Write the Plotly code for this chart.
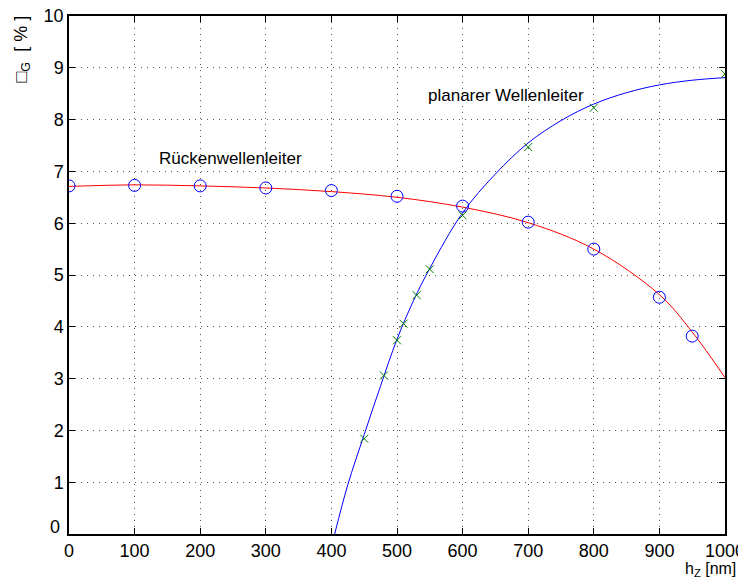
import plotly.graph_objects as go

# Rückenwellenleiter (circles + red fit curve)
ruecken_x = [0, 100, 200, 300, 400, 500, 600, 700, 800, 900, 950]
ruecken_y = [6.72, 6.73, 6.72, 6.68, 6.63, 6.52, 6.33, 6.02, 5.50, 4.57, 3.82]
ruecken_fit_x = [0, 100, 200, 300, 400, 500, 600, 700, 800, 900, 950, 1000]
ruecken_fit_y = [6.71, 6.74, 6.72, 6.68, 6.61, 6.50, 6.31, 6.01, 5.50, 4.62, 3.90, 3.02]

# planarer Wellenleiter (crosses + blue fit curve)
planar_x = [450, 480, 500, 510, 530, 550, 600, 700, 800, 1000]
planar_y = [1.84, 3.06, 3.74, 4.06, 4.61, 5.11, 6.15, 7.47, 8.23, 8.88]
planar_fit_x = [405, 425, 450, 475, 500, 525, 550, 600, 650, 700, 750, 800, 850, 900, 950, 1000]
planar_fit_y = [0.0, 0.95, 1.92, 2.86, 3.76, 4.50, 5.13, 6.20, 6.95, 7.55, 7.98, 8.30, 8.52, 8.67, 8.76, 8.81]

x_ticks = [0, 100, 200, 300, 400, 500, 600, 700, 800, 900, 1000]
y_ticks = [0, 1, 2, 3, 4, 5, 6, 7, 8, 9, 10]
y_ticktext = ["", "1", "2", "3", "4", "5", "6", "7", "8", "9", "10"]
y_zero_label = "0"

font = "Liberation Sans, Arial, Helvetica, sans-serif"

fig = go.Figure()
fig.add_trace(go.Scatter(x=ruecken_fit_x, y=ruecken_fit_y, mode="lines",
                         line=dict(color="red", width=1, shape="spline"), showlegend=False))
fig.add_trace(go.Scatter(x=planar_fit_x, y=planar_fit_y, mode="lines",
                         line=dict(color="blue", width=1, shape="spline"), showlegend=False))
fig.add_trace(go.Scatter(x=ruecken_x, y=ruecken_y, mode="markers",
                         marker=dict(symbol="circle-open", size=12, color="blue", line=dict(width=1)),
                         showlegend=False))
fig.add_trace(go.Scatter(x=planar_x, y=planar_y, mode="markers",
                         marker=dict(symbol="x-thin-open", size=8, color="green", line=dict(width=1, color="green")),
                         showlegend=False))

axis_common = dict(
    showline=True, linecolor="black", linewidth=1.5, mirror="ticks",
    ticks="inside", ticklen=6, tickcolor="black", tickwidth=1,
    showgrid=True, gridcolor="#555555", griddash="1px,5px", gridwidth=1,
    zeroline=False, tickfont=dict(family=font, size=18, color="black"),
    automargin=False, ticklabeloverflow="allow",
)

fig.update_xaxes(range=[0, 1000], tickvals=x_ticks, ticktext=[str(v) for v in x_ticks], **axis_common)
fig.update_yaxes(range=[0, 10], tickvals=y_ticks, ticktext=y_ticktext, **axis_common)

# MATLAB-style raised "0" label on the y axis
fig.add_annotation(x=0, y=y_ticks[0], xref="paper", yref="y", text=y_zero_label, showarrow=False,
                   xanchor="right", yanchor="middle", xshift=-7, yshift=7,
                   font=dict(family=font, size=18, color="black"))

fig.add_annotation(x=246, y=7.25, xref="x", yref="y", text="Rückenwellenleiter", showarrow=False,
                   font=dict(family=font, size=17, color="black"))
fig.add_annotation(x=666, y=8.47, xref="x", yref="y", text="planarer Wellenleiter", showarrow=False,
                   font=dict(family=font, size=17, color="black"))

# axis titles as annotations
fig.add_annotation(xref="paper", yref="paper", x=1.0, y=-0.047, xanchor="right", yanchor="top",
                   text="h<sub>Z</sub> [nm]", showarrow=False, xshift=13,
                   font=dict(family=font, size=16, color="black"))
fig.add_annotation(xref="paper", yref="paper", x=0, y=1.0, xanchor="center", yanchor="top",
                   text="□<sub>G</sub>  [ % ]", showarrow=False, textangle=-90, xshift=-47, yshift=2,
                   font=dict(family=font, size=18, color="black"))

# page body has an 8px margin, so the figure is drawn 8px smaller
fig.update_layout(
    width=738, height=578,
    margin=dict(l=61, r=21, t=8, b=52, autoexpand=False),
    paper_bgcolor="white", plot_bgcolor="white",
    showlegend=False,
)

fig.write_html("out.html")
